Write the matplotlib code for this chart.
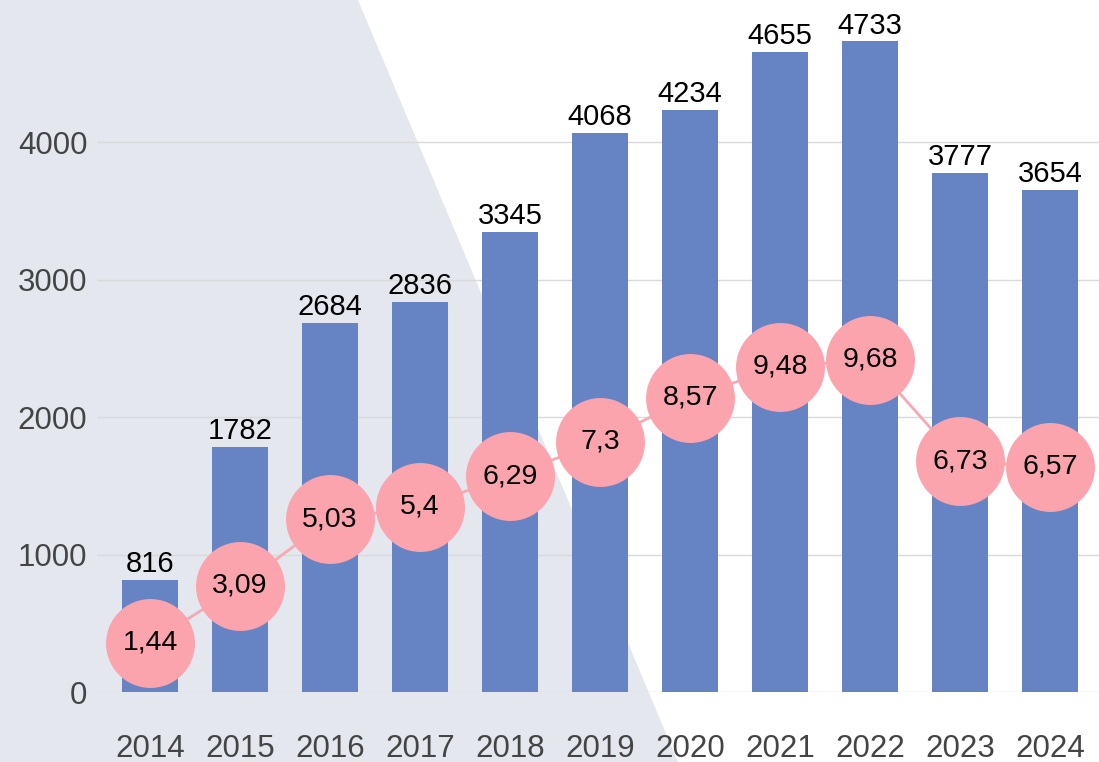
import matplotlib
matplotlib.use("Agg")
from matplotlib import pyplot as plt
from matplotlib.patches import Polygon

years = ['2014', '2015', '2016', '2017', '2018', '2019', '2020', '2021', '2022', '2023', '2024']
counts = [816, 1782, 2684, 2836, 3345, 4068, 4234, 4655, 4733, 3777, 3654]
rates = [1.44, 3.09, 5.03, 5.4, 6.29, 7.3, 8.57, 9.48, 9.68, 6.73, 6.57]
y_ticks = [0, 1000, 2000, 3000, 4000]

plt.rcParams['font.family'] = ['Liberation Sans', 'DejaVu Sans']

W, H = 1099, 762
fig = plt.figure(figsize=(W / 100, H / 100), dpi=100, facecolor='white')

# grey wedge behind the left part of the chart
fig.patches.append(Polygon([(0, 1), (358 / W, 1), (678 / W, 0), (0, 0)],
                           closed=True, transform=fig.transFigure,
                           facecolor='#e4e7ee', edgecolor='none', zorder=-5))

ax = fig.add_axes([97 / W, 1 - 692 / H, 1 - 97 / W, 692 / H])
ax.set_facecolor('none')
x = list(range(len(years)))

ax.bar(x, counts, width=0.62, color='#6683c4', zorder=2)
for xi, c in zip(x, counts):
    ax.text(xi, c + 12, str(c), ha='center', va='bottom', fontsize=21, color='black', zorder=3)

ax.set_xlim(-0.59, 10.545)
ax.set_ylim(0, 5033)
ax.set_yticks(y_ticks)
ax.set_yticklabels([str(t) for t in y_ticks], fontsize=22.5, color='#444444')
ax.set_xticks(x)
ax.set_xticklabels(years, fontsize=22.5, color='#444444')
ax.tick_params(axis='both', length=0)
ax.tick_params(axis='x', pad=30)
ax.tick_params(axis='y', pad=7)
ax.grid(axis='y', color='#d9d9d9', linewidth=1, zorder=1)
ax.set_axisbelow(True)
for s in ax.spines.values():
    s.set_visible(False)

# rate series on a secondary scale
ax2 = ax.twinx()
ax2.set_ylim(0, 20.17)
ax2.plot(x, rates, color='#f6a9b2', linewidth=2, zorder=3)
ax2.plot(x, rates, linestyle='none', marker='o', markersize=63,
         markerfacecolor='#fba4ae', markeredgecolor='#fba4ae', zorder=4)
for xi, r in zip(x, rates):
    ax2.text(xi, r, f'{r:g}'.replace('.', ','), ha='center', va='center',
             fontsize=20.5, color='black', zorder=5)
ax2.set_yticks([])
for s in ax2.spines.values():
    s.set_visible(False)

fig.savefig('out.png', dpi=100, facecolor='white')
